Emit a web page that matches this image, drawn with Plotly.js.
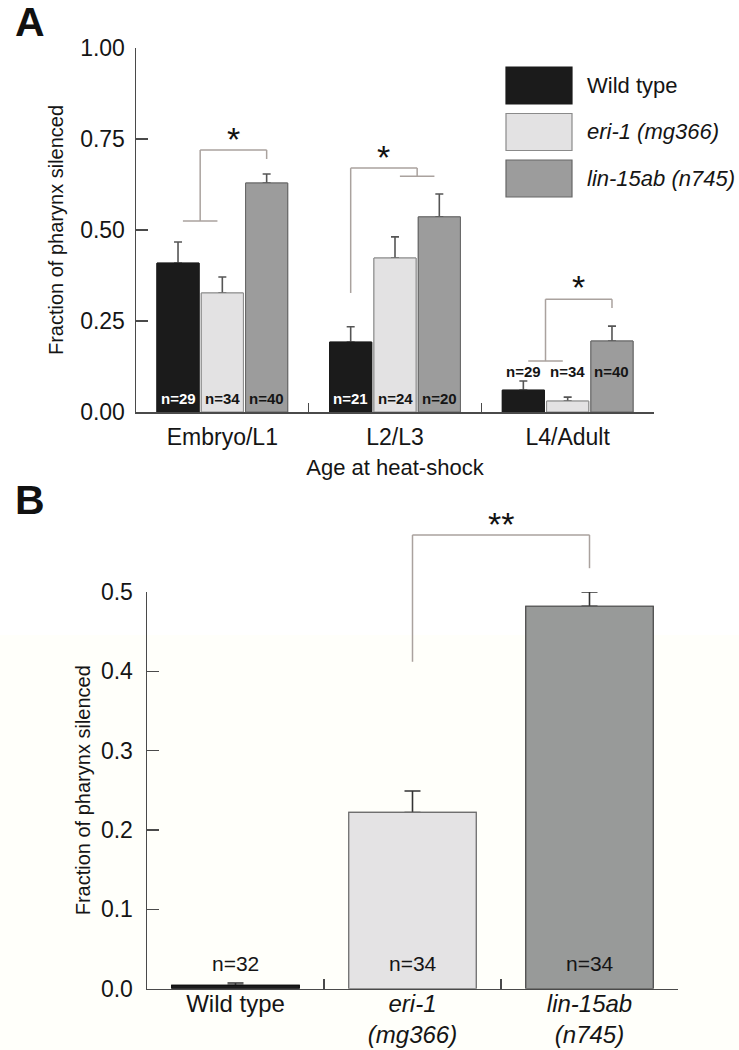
<!DOCTYPE html>
<html>
<head>
<meta charset="utf-8">
<script src="https://cdn.plot.ly/plotly-3.0.1.min.js"></script>
<style>html,body{margin:0;padding:0;background:#fff;}#chart{width:739px;height:1050px;}</style>
</head>
<body>
<div id="chart"></div>
<script>
// ---------- DATA ----------
const stages = ['Embryo/L1', 'L2/L3', 'L4/Adult'];
const seriesNames = ['Wild type', 'eri-1 (mg366)', 'lin-15ab (n745)'];
const seriesLegendText = ['Wild type', '<i>eri-1 (mg366)</i>', '<i>lin-15ab (n745)</i>'];
const wildTypeA = [0.409, 0.192, 0.060];
const eri1A = [0.327, 0.423, 0.030];
const lin15abA = [0.629, 0.536, 0.195];
const wildTypeErrA = [0.058, 0.042, 0.025];
const eri1ErrA = [0.044, 0.058, 0.011];
const lin15abErrA = [0.025, 0.063, 0.041];
const wildTypeNA = [29, 21, 29];
const eri1NA = [34, 24, 34];
const lin15abNA = [40, 20, 40];
const sigA = ['*', '*', '*'];

const genotypes = ['Wild type', 'eri-1 (mg366)', 'lin-15ab (n745)'];
const genotypeTicks = ['Wild type', '<i>eri-1</i><br><i>(mg366)</i>', '<i>lin-15ab</i><br><i>(n745)</i>'];
const fractionB = [0.004, 0.222, 0.482];
const errB = [0.003, 0.027, 0.018];
const nB = [32, 34, 34];
const sigB = '**';

const yTicksA = [0, 0.25, 0.5, 0.75, 1.0];
const yTicksB = [0, 0.1, 0.2, 0.3, 0.4, 0.5];

// ---------- STYLE ----------
const W = 739, H = 1050;
const FONT = 'Liberation Sans, Arial, Helvetica, sans-serif';
const TXT = '#151515';
const AX = '#4a4a4a';
const BRK = '#aaa29e';
const fills = ['#1b1b1b', '#e3e2e3', '#9c9c9c'];
const borders = ['#1b1b1b', '#8a8a8a', '#666666'];
const fillsB = ['#1b1b1b', '#e4e3e4', '#989a99'];
const bordersB = ['#111', '#6f6f6f', '#4f4f4f'];
const px = x => x / W;
const py = y => 1 - y / H;

const BARGAP = 0.23, GROUPGAP = 0.05;
const slot = (1 - BARGAP) / 3;

const valsA = [wildTypeA, eri1A, lin15abA];
const errsA = [wildTypeErrA, eri1ErrA, lin15abErrA];
const nsA = [wildTypeNA, eri1NA, lin15abNA];

const traces = [];
// bars with (upward) error bars
valsA.forEach((v, i) => traces.push({
  type: 'bar', x: stages, y: v, name: seriesNames[i], offsetgroup: 'g' + i,
  xaxis: 'x', yaxis: 'y',
  marker: {color: fills[i], line: {color: borders[i], width: 1}},
  error_y: {type: 'data', array: errsA[i], arrayminus: v.map(() => 0), symmetric: false,
            color: '#555', thickness: 1.6, width: 4},
  hoverinfo: 'skip', showlegend: false
}));
traces.push({
  type: 'bar', x: genotypes, y: fractionB, xaxis: 'x2', yaxis: 'y2', width: 0.72, offsetgroup: 'b',
  marker: {color: fillsB, line: {color: bordersB, width: 1.2}},
  error_y: {type: 'data', array: errB, arrayminus: errB.map(() => 0), symmetric: false,
            color: '#333', thickness: 1.6, width: 8},
  hoverinfo: 'skip', showlegend: false
});
// same bars redrawn on top (hides the zero-length lower cap of the error bars)
valsA.forEach((v, i) => traces.push({
  type: 'bar', x: stages, y: v, name: seriesNames[i], offsetgroup: 'g' + i,
  xaxis: 'x', yaxis: 'y',
  marker: {color: fills[i], line: {color: borders[i], width: 1}},
  hoverinfo: 'skip', showlegend: false
}));
traces.push({
  type: 'bar', x: genotypes, y: fractionB, xaxis: 'x2', yaxis: 'y2', width: 0.72, offsetgroup: 'b',
  marker: {color: fillsB, line: {color: bordersB, width: 1.2}},
  hoverinfo: 'skip', showlegend: false
});

const annotations = [];
const shapes = [];

// panel letters
annotations.push({xref: 'paper', yref: 'paper', x: px(30), y: 1, yshift: 3, text: '<b>A</b>', showarrow: false,
  font: {family: FONT, size: 41, color: '#111'}, xanchor: 'center', yanchor: 'top'});
annotations.push({xref: 'paper', yref: 'paper', x: px(30), y: py(500), text: '<b>B</b>', showarrow: false,
  font: {family: FONT, size: 41, color: '#111'}, xanchor: 'center', yanchor: 'middle'});

// n labels panel A
const nLabelY = [0.036, 0.036, 0.11];
nsA.forEach((arr, i) => {
  arr.forEach((n, c) => {
    const inside = c < 2;
    annotations.push({xref: 'x', yref: 'y', x: c + (i - 1) * slot, y: nLabelY[c],
      text: '<b>n=' + n + '</b>', showarrow: false, xanchor: 'center', yanchor: 'middle',
      font: {family: FONT, size: 15, color: (inside && i === 0) ? '#ffffff' : TXT}});
  });
});
// n labels panel B
nB.forEach((n, c) => {
  annotations.push({xref: 'x2', yref: 'y2', x: c, y: 0.032, text: 'n=' + n, showarrow: false,
    xanchor: 'center', yanchor: 'middle', font: {family: FONT, size: 21, color: TXT}});
});

// legend (manual, large swatches)
seriesNames.forEach((s, i) => {
  const top = 67 + i * 46.5;
  shapes.push({type: 'rect', xref: 'paper', yref: 'paper', x0: px(506), x1: px(572), y0: py(top + 37), y1: py(top),
    fillcolor: fills[i], line: {color: borders[i], width: 1.2}});
  annotations.push({xref: 'paper', yref: 'paper', x: px(585), y: py(top + 18.5), text: seriesLegendText[i],
    showarrow: false, xanchor: 'left', yanchor: 'middle', font: {family: FONT, size: 22, color: TXT}});
});

// significance brackets (domain coords)
const dxA = c => (c + 0.5) / 3;
const dyA = v => v / 1.0;
const dyB = v => v / 0.5;
function seg(xr, yr, x0, y0, x1, y1) {
  shapes.push({type: 'line', xref: xr, yref: yr, x0: x0, y0: y0, x1: x1, y1: y1,
    line: {color: BRK, width: 1.5}});
}
function star(xr, yr, x, y, t, size) {
  annotations.push({xref: xr, yref: yr, x: x, y: y, text: t, showarrow: false, xanchor: 'center',
    yanchor: 'middle', yshift: -0.18 * size, font: {family: FONT, size: size, color: '#111'}});
}
const XD = 'x domain', YD = 'y domain';
const midWE = -slot / 2, half = 0.1;
// Embryo/L1: (WT, eri-1) vs lin-15ab
(function () {
  const c = 0, low = 0.525, top = 0.72, end = 0.695;
  seg(XD, YD, dxA(c + midWE - half), dyA(low), dxA(c + midWE + half), dyA(low));
  seg(XD, YD, dxA(c + midWE), dyA(low), dxA(c + midWE), dyA(top));
  seg(XD, YD, dxA(c + midWE), dyA(top), dxA(c + slot), dyA(top));
  seg(XD, YD, dxA(c + slot), dyA(top), dxA(c + slot), dyA(end));
  star(XD, YD, dxA(c + (midWE + slot) / 2), dyA(0.766), sigA[0], 34);
})();
// L2/L3: WT vs (eri-1, lin-15ab)
(function () {
  const c = 1, low = 0.327, top = 0.67, end = 0.648, mid = slot / 2;
  seg(XD, YD, dxA(c - slot), dyA(low), dxA(c - slot), dyA(top));
  seg(XD, YD, dxA(c - slot), dyA(top), dxA(c + mid), dyA(top));
  seg(XD, YD, dxA(c + mid), dyA(top), dxA(c + mid), dyA(end));
  seg(XD, YD, dxA(c + mid - half), dyA(end), dxA(c + mid + half), dyA(end));
  star(XD, YD, dxA(c + (mid - slot) / 2), dyA(0.717), sigA[1], 34);
})();
// L4/Adult: (WT, eri-1) vs lin-15ab
(function () {
  const c = 2, low = 0.14, top = 0.31, end = 0.286;
  seg(XD, YD, dxA(c + midWE - half), dyA(low), dxA(c + midWE + half), dyA(low));
  seg(XD, YD, dxA(c + midWE), dyA(low), dxA(c + midWE), dyA(top));
  seg(XD, YD, dxA(c + midWE), dyA(top), dxA(c + slot), dyA(top));
  seg(XD, YD, dxA(c + slot), dyA(top), dxA(c + slot), dyA(end));
  star(XD, YD, dxA(c + (midWE + slot) / 2), dyA(0.36), sigA[2], 34);
})();
// Panel B: eri-1 vs lin-15ab
(function () {
  const X2 = 'x2 domain', Y2 = 'y2 domain';
  seg(X2, Y2, dxA(1), dyB(0.412), dxA(1), dyB(0.572));
  seg(X2, Y2, dxA(1), dyB(0.572), dxA(2), dyB(0.572));
  seg(X2, Y2, dxA(2), dyB(0.572), dxA(2), dyB(0.530));
  star(X2, Y2, dxA(1.5), dyB(0.593), sigB, 34);
})();

// faint cream background of panel B
shapes.push({type: 'rect', xref: 'paper', yref: 'paper', x0: 0, x1: 1, y0: 0, y1: py(635),
  fillcolor: '#fffffa', line: {width: 0}, layer: 'below'});

const axCommon = {
  showline: true, linecolor: AX, linewidth: 1.5, ticks: 'inside', tickcolor: AX, tickwidth: 1.3,
  showgrid: false, zeroline: false, automargin: false, fixedrange: true
};

const layout = {
  width: W, height: H, margin: {l: 0, r: 0, t: 0, b: 0},
  paper_bgcolor: '#ffffff', plot_bgcolor: 'rgba(0,0,0,0)',
  barmode: 'group', bargap: BARGAP, bargroupgap: GROUPGAP, showlegend: false,
  font: {family: FONT, color: TXT},
  xaxis: Object.assign({}, axCommon, {
    domain: [px(136), px(654)], anchor: 'y', type: 'category', range: [-0.5, 2.5],
    tickson: 'boundaries', ticklen: 9, ticklabelstandoff: 4,
    tickfont: {family: FONT, size: 23, color: TXT},
    title: {text: 'Age at heat-shock', font: {family: FONT, size: 22, color: TXT}, standoff: 10}
  }),
  yaxis: Object.assign({}, axCommon, {
    domain: [py(412), py(48)], anchor: 'x', range: [0, 1], ticklen: 12,
    tickvals: yTicksA, tickformat: '.2f', ticklabelstandoff: 5,
    tickfont: {family: FONT, size: 23, color: TXT},
    title: {text: 'Fraction of pharynx silenced', font: {family: FONT, size: 20, color: TXT}, standoff: 11}
  }),
  xaxis2: Object.assign({}, axCommon, {
    domain: [px(147), px(678)], anchor: 'y2', type: 'category', range: [-0.5, 2.5],
    tickson: 'boundaries', ticklen: 10, ticklabelstandoff: -7,
    tickvals: genotypes, ticktext: genotypeTicks,
    tickfont: {family: FONT, size: 24, color: TXT}
  }),
  yaxis2: Object.assign({}, axCommon, {
    domain: [py(988.5), py(592)], anchor: 'x2', range: [0, 0.5], ticklen: 12,
    tickvals: yTicksB, tickformat: '.1f', ticklabelstandoff: 8,
    tickfont: {family: FONT, size: 23, color: TXT},
    title: {text: 'Fraction of pharynx silenced', font: {family: FONT, size: 20, color: TXT}, standoff: 5}
  }),
  shapes: shapes,
  annotations: annotations
};

Plotly.newPlot('chart', traces, layout, {displayModeBar: false, staticPlot: true});
</script>
</body>
</html>
